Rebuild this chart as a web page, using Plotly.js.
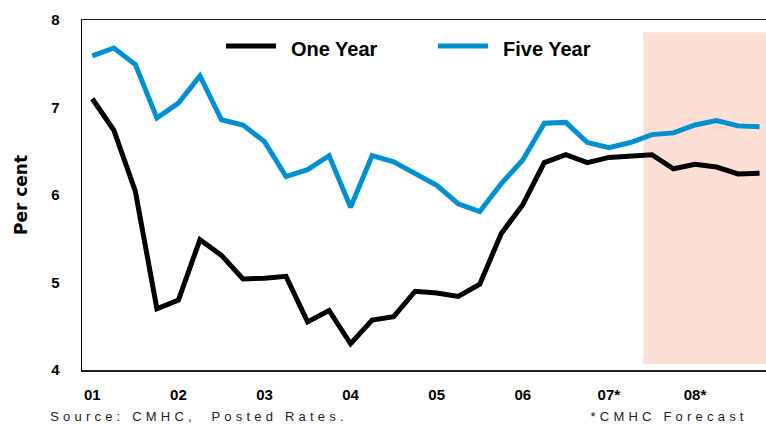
<!DOCTYPE html>
<html>
<head>
<meta charset="utf-8">
<script src="https://cdn.plot.ly/plotly-3.0.1.min.js"></script>
<style>
  html, body { margin: 0; padding: 0; background: #fff; }
  #chart { width: 766px; height: 425px; }
  /* spaced-out footnote lettering */
  .annotation[data-index="2"] .annotation-text,
  .annotation[data-index="3"] .annotation-text { letter-spacing: 4.2px; }
</style>
</head>
<body>
<div id="chart"></div>
<script>
// Quarterly posted mortgage rates, 2001 Q1 to 2008 Q4 (2007 Q3 onward forecast)
const quarters = [
  '01Q1','01Q2','01Q3','01Q4','02Q1','02Q2','02Q3','02Q4',
  '03Q1','03Q2','03Q3','03Q4','04Q1','04Q2','04Q3','04Q4',
  '05Q1','05Q2','05Q3','05Q4','06Q1','06Q2','06Q3','06Q4',
  '07Q1','07Q2','07Q3','07Q4','08Q1','08Q2','08Q3','08Q4'
];
const oneYear = [
  7.10, 6.74, 6.04, 4.70, 4.80, 5.49, 5.31, 5.04,
  5.05, 5.07, 4.55, 4.68, 4.30, 4.57, 4.61, 4.90,
  4.88, 4.84, 4.98, 5.56, 5.89, 6.37, 6.46, 6.37,
  6.43, 6.45, 6.46, 6.30, 6.35, 6.32, 6.24, 6.25
];
const fiveYear = [
  7.59, 7.68, 7.49, 6.88, 7.05, 7.36, 6.86, 6.80,
  6.61, 6.21, 6.29, 6.45, 5.86, 6.45, 6.38, 6.25,
  6.11, 5.90, 5.81, 6.13, 6.40, 6.82, 6.83, 6.60,
  6.54, 6.60, 6.69, 6.71, 6.80, 6.85, 6.79, 6.78
];
const yearTickVals = ['01Q1','02Q1','03Q1','04Q1','05Q1','06Q1','07Q1','08Q1'];
const yearTickText = ['01','02','03','04','05','06','07*','08*'];
const seriesNames = ['One Year', 'Five Year'];

const BLACK = '#000000';
const BLUE = '#0090d1';
const SHADE = '#fde0d5';
const FONT = 'Liberation Sans, Arial, sans-serif';

const traces = [
  { x: quarters, y: fiveYear, name: seriesNames[1], type: 'scatter', mode: 'lines',
    line: { color: BLUE, width: 5 }, hoverinfo: 'skip' },
  { x: quarters, y: oneYear, name: seriesNames[0], type: 'scatter', mode: 'lines',
    line: { color: BLACK, width: 5 }, hoverinfo: 'skip' }
];

const layout = {
  width: 766, height: 425,
  margin: { l: 82, r: 0, t: 20, b: 55 },
  paper_bgcolor: '#ffffff', plot_bgcolor: '#ffffff',
  showlegend: false,
  font: { family: FONT, color: '#000' },
  xaxis: {
    type: 'category', range: [-0.48, 31.3],
    tickvals: yearTickVals, ticktext: yearTickText,
    showgrid: false, zeroline: false,
    showline: true, mirror: true, linecolor: '#222', linewidth: 1.5,
    ticks: 'outside', ticklen: 10, tickcolor: 'rgba(0,0,0,0)',
    tickfont: { family: FONT, size: 15, weight: 'bold', color: '#000' }
  },
  yaxis: {
    range: [4, 8], tickvals: [4, 5, 6, 7, 8],
    showgrid: false, zeroline: false,
    showline: true, linecolor: '#000', linewidth: 1.5,
    ticks: 'outside', ticklen: 18, tickcolor: 'rgba(0,0,0,0)',
    tickfont: { family: FONT, size: 15, weight: 'bold', color: '#000' },
    title: { text: 'Per cent', standoff: 19,
      font: { family: 'DejaVu Sans, sans-serif', size: 17, weight: 'bold', color: '#000' } }
  },
  shapes: [
    // forecast period band
    { type: 'rect', xref: 'x', yref: 'y', x0: 25.6, x1: 31.3, y0: 4.07, y1: 7.86,
      fillcolor: SHADE, line: { width: 0 }, layer: 'below' },
    // legend keys
    { type: 'line', xref: 'paper', yref: 'paper', x0: 0.2105, x1: 0.2836, y0: 0.9257, y1: 0.9257,
      line: { color: BLACK, width: 5 } },
    { type: 'line', xref: 'paper', yref: 'paper', x0: 0.5205, x1: 0.5936, y0: 0.9257, y1: 0.9257,
      line: { color: BLUE, width: 5 } }
  ],
  annotations: [
    { xref: 'paper', yref: 'paper', x: 0.302, y: 0.917, xanchor: 'left', yanchor: 'middle',
      text: seriesNames[0], showarrow: false,
      font: { family: FONT, size: 20, weight: 'bold', color: '#000' } },
    { xref: 'paper', yref: 'paper', x: 0.612, y: 0.917, xanchor: 'left', yanchor: 'middle',
      text: seriesNames[1], showarrow: false,
      font: { family: FONT, size: 20, weight: 'bold', color: '#000' } },
    { xref: 'paper', yref: 'paper', x: 0.1711, y: -0.106, xanchor: 'center', yanchor: 'top',
      text: 'Source: CMHC,  Posted Rates.', showarrow: false,
      font: { family: FONT, size: 13, color: '#222' } },
    { xref: 'paper', yref: 'paper', x: 0.8596, y: -0.106, xanchor: 'center', yanchor: 'top',
      text: '*CMHC Forecast', showarrow: false,
      font: { family: FONT, size: 13, color: '#222' } }
  ]
};

Plotly.newPlot('chart', traces, layout, { staticPlot: true, displayModeBar: false });
</script>
</body>
</html>
